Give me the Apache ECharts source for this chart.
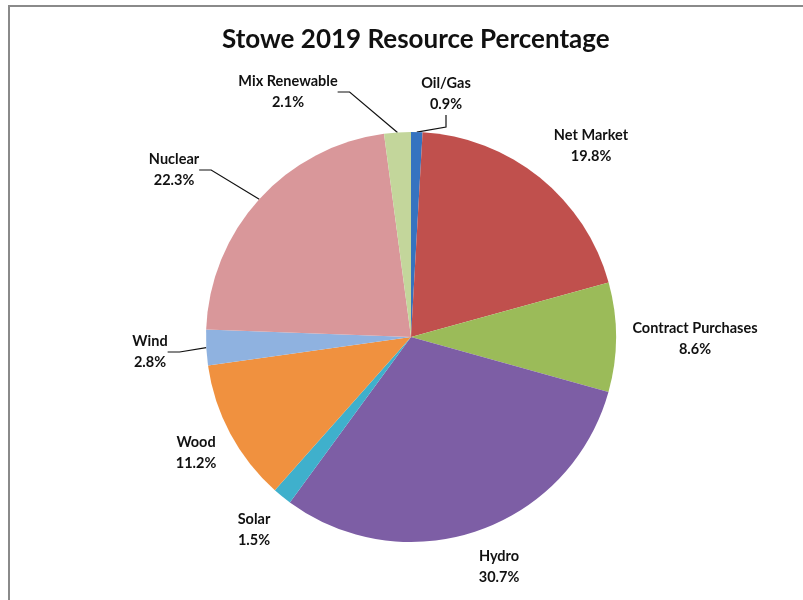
<!DOCTYPE html>
<html>
<head>
<meta charset="utf-8">
<title>Stowe 2019 Resource Percentage</title>
<script src="https://cdn.jsdelivr.net/npm/echarts@6/dist/echarts.min.js"></script>
<style>
  html, body { margin: 0; padding: 0; background: #fff; }
  #chart { width: 803px; height: 600px; }
</style>
</head>
<body>
<div id="chart"></div>
<script>
// Resource mix, clockwise from 12 o'clock
const sources = ['Oil/Gas', 'Net Market', 'Contract Purchases', 'Hydro', 'Solar', 'Wood', 'Wind', 'Nuclear', 'Mix Renewable'];
const shares = [0.9, 19.8, 8.6, 30.7, 1.5, 11.2, 2.8, 22.3, 2.1];

const sliceColors = ['#3573c0', '#c0504d', '#9bbb59', '#7d5ea5', '#3fb0cc', '#f0913f', '#8fb2e0', '#d9979a', '#c3d69b'];
// Label anchor points (label centre) and whether a leader line is drawn
const labelAnchors = [[446, 94], [591, 146], [695, 339], [499, 567], [254, 530], [196, 453], [150, 352], [174, 170], [288, 92]];
const leaders = [true, false, false, false, false, false, true, true, true];

const chart = echarts.init(document.getElementById('chart'));

chart.setOption({
  backgroundColor: '#ffffff',
  animation: false,
  title: {
    text: 'Stowe 2019 Resource Percentage',
    left: 217,
    top: 22,
    textStyle: { fontFamily: 'Lato', fontWeight: 'bold', fontSize: 26, color: '#111' }
  },
  graphic: [{
    type: 'polyline',
    shape: { points: [[9, 600], [9, 6], [803, 6]] },
    style: { stroke: '#8a8a8a', lineWidth: 2, fill: null }
  }],
  series: [{
    type: 'pie',
    center: [411, 337],
    radius: [0, 205],
    startAngle: 90,
    clockwise: true,
    label: {
      show: true,
      formatter: '{b}\n{c}%',
      fontFamily: 'Lato',
      fontWeight: 'bold',
      fontSize: 14.5,
      lineHeight: 21,
      color: '#111',
      align: 'center'
    },
    labelLine: {
      show: true,
      length: 20,
      length2: 12,
      lineStyle: { color: '#111', width: 1.2 }
    },
    labelLayout: function (params) {
      const p = labelAnchors[params.dataIndex];
      return { x: p[0], y: p[1], align: 'center', verticalAlign: 'middle' };
    },
    itemStyle: { borderWidth: 0 },
    data: sources.map((name, i) => ({
      name: name,
      value: shares[i],
      itemStyle: { color: sliceColors[i] },
      labelLine: { show: leaders[i] }
    }))
  }]
});
</script>
</body>
</html>
